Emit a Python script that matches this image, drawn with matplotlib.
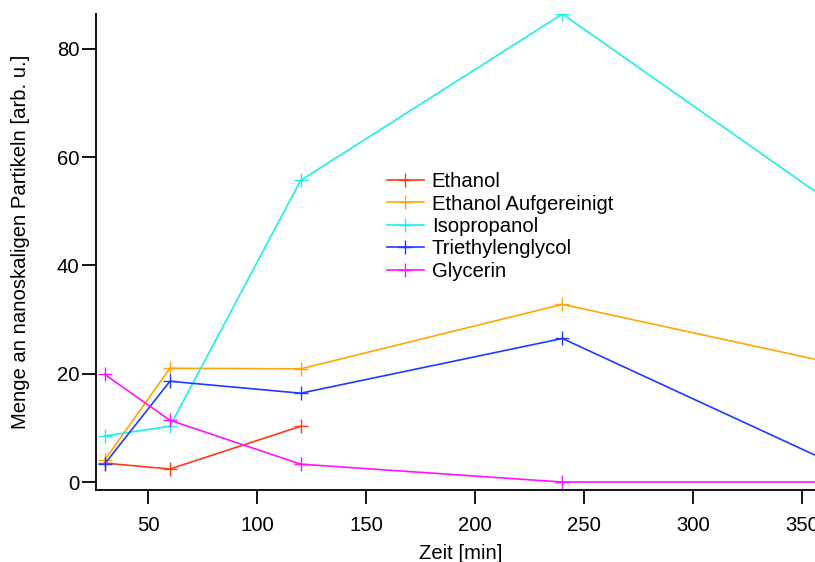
import numpy as np
import matplotlib.pyplot as plt

plt.rcParams['font.family'] = ['Liberation Sans', 'DejaVu Sans']

zeit = [30, 60, 120, 240, 360]
ethanol = [3.5, 2.4, 10.3, np.nan, 18.2]
ethanol_aufg = [4.0, 21.0, 20.9, 32.8, 22.3]
isopropanol = [8.5, 10.3, 55.7, 86.4, 52.5]
triethylenglycol = [3.3, 18.6, 16.4, 26.5, 4.2]
glycerin = [19.9, 11.4, 3.3, 0.0, 0.0]

series = [
    ('Ethanol', ethanol, '#ff3a14'),
    ('Ethanol Aufgereinigt', ethanol_aufg, '#ffa50a'),
    ('Isopropanol', isopropanol, '#1ef0e6'),
    ('Triethylenglycol', triethylenglycol, '#1e3cff'),
    ('Glycerin', glycerin, '#ff14ff'),
]

fs = 14.6

fig = plt.figure(figsize=(8.15, 5.62), dpi=100)
ax = fig.add_axes([96 / 815, 72 / 562, (824 - 96) / 815, (490 - 14) / 562])

for name, vals, col in series:
    ax.plot(zeit, vals, color=col, marker='+', markersize=10, mew=1.0,
            lw=1.2, label=name)

ax.set_xlim(26.1, 360)
ax.set_ylim(-1.47, 86.4)
ax.set_xticks([50, 100, 150, 200, 250, 300, 350])
ax.set_yticks([0, 20, 40, 60, 80])
ax.spines['top'].set_visible(False)
ax.spines['right'].set_visible(False)
ax.tick_params(direction='out', length=10, width=1.3, labelsize=fs)
ax.tick_params(axis='x', pad=9)
ax.tick_params(axis='y', pad=2)
for s in ('left', 'bottom'):
    ax.spines[s].set_linewidth(1.3)

# axis titles placed like in the original
fig.text(461 / 815, 1 - 544 / 562, 'Zeit [min]', fontsize=fs,
         ha='center', va='top')
fig.text(21 / 815, 1 - 241.5 / 562, 'Menge an nanoskaligen Partikeln [arb. u.]',
         fontsize=fs, rotation=90, ha='center', va='center')

ax.legend(loc='upper left', bbox_to_anchor=(379 / 815, 1 - 164 / 562),
          bbox_transform=fig.transFigure, frameon=False, fontsize=fs,
          handlelength=1.8, handletextpad=0.4, labelspacing=0.17,
          borderaxespad=0)

fig.savefig('out.png', dpi=100)
